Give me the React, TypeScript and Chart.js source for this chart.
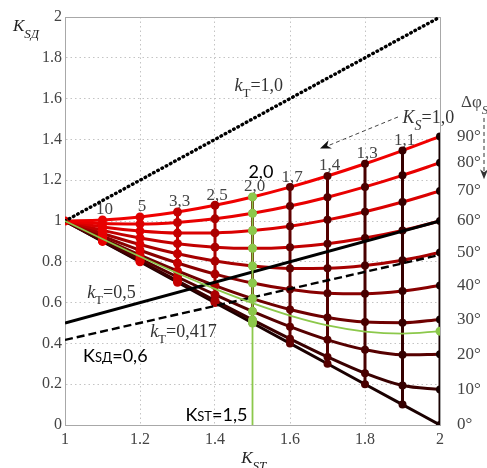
import React, { useEffect, useRef } from 'react';
import { Chart, registerables } from 'chart.js';

Chart.register(...registerables);

// Slip-ratio axis K_ST
const kST = [1, 1.1, 1.2, 1.3, 1.4, 1.5, 1.6, 1.7, 1.8, 1.9, 2];

// K_SД along each constant phase-shift curve (0° … 90°)
const phi0 = [1, 0.9, 0.8, 0.7, 0.6, 0.5, 0.4, 0.3, 0.2, 0.1, 0];
const phi10 = [1, 0.9017, 0.8038, 0.7065, 0.61, 0.515, 0.4222, 0.3336, 0.2536, 0.1933, 0.1743];
const phi20 = [1, 0.9067, 0.8149, 0.7254, 0.6389, 0.557, 0.482, 0.4176, 0.3694, 0.3443, 0.3473];
const phi30 = [1, 0.9148, 0.8328, 0.7553, 0.6835, 0.6197, 0.5664, 0.5269, 0.5044, 0.5012, 0.5177];
const phi40 = [1, 0.9256, 0.8565, 0.794, 0.7397, 0.6957, 0.6639, 0.6462, 0.6437, 0.6567, 0.6841];
const phi50 = [1, 0.9389, 0.8848, 0.8392, 0.8036, 0.7792, 0.7672, 0.7682, 0.782, 0.8081, 0.8452];
const phi60 = [1, 0.9539, 0.9165, 0.8888, 0.8718, 0.866, 0.8718, 0.8888, 0.9165, 0.9539, 1.0];
const phi70 = [1, 0.9704, 0.9504, 0.9406, 0.9415, 0.9529, 0.9745, 1.0056, 1.0454, 1.0929, 1.1472];
const phi80 = [1, 0.9876, 0.9852, 0.9929, 1.0105, 1.0375, 1.0732, 1.1167, 1.1671, 1.2237, 1.2856];
const phi90 = [1, 1.005, 1.0198, 1.044, 1.077, 1.118, 1.1662, 1.2207, 1.2806, 1.3454, 1.4142];
const phaseCurves = [phi0, phi10, phi20, phi30, phi40, phi50, phi60, phi70, phi80, phi90];
const phaseLabels = ['0°', '10°', '20°', '30°', '40°', '50°', '60°', '70°', '80°', '90°'];

// K_S value attached to each vertical (K_ST = 1.1 … 1.9)
const kSLabels = ['', '10', '5', '3,3', '2,5', '2,0', '1,7', '1,4', '1,3', '1,1'];

// Working curve through K_SД = 0,6 at K_ST = 1,5
const greenCurve = [1, 0.912, 0.826, 0.744, 0.667, 0.597, 0.536, 0.488, 0.458, 0.448, 0.46];
const greenX = 1.5;

// Straight lines K_SД = k_T · K_ST
const kTx = [1, 2];
const kT10 = [1, 2];
const kT05 = [0.5, 1.0];
const kT0417 = [0.417, 0.834];

const SERIF = '"Liberation Serif", "Times New Roman", serif';
const SANS = 'Lato, "Open Sans", "Liberation Sans", sans-serif';

const curveColors = ['#1a0000', '#3a0000', '#560000', '#6e0000', '#880000', '#a60000', '#c20000', '#da0000', '#e80000', '#f00000'];
const vertColors = ['', '#e80000', '#dc0000', '#c40000', '#aa0000', '#6a1a00', '#600000', '#540000', '#480000', '#360000', '#180000'];

type Part = [string, string, number];
function drawRuns(ctx: CanvasRenderingContext2D, x: number, y: number, parts: Part[]) {
  let cx = x;
  for (const [text, font, dy] of parts) {
    ctx.font = font;
    ctx.fillText(text, cx, y + dy);
    cx += ctx.measureText(text).width;
  }
}

function arrowHead(ctx: CanvasRenderingContext2D, x0: number, y0: number, x1: number, y1: number, len: number, half: number) {
  const a = Math.atan2(y1 - y0, x1 - x0);
  ctx.beginPath();
  ctx.moveTo(x1, y1);
  ctx.lineTo(x1 - len * Math.cos(a) + half * Math.sin(a), y1 - len * Math.sin(a) - half * Math.cos(a));
  ctx.lineTo(x1 - len * 0.7 * Math.cos(a), y1 - len * 0.7 * Math.sin(a));
  ctx.lineTo(x1 - len * Math.cos(a) - half * Math.sin(a), y1 - len * Math.sin(a) + half * Math.cos(a));
  ctx.closePath();
  ctx.fill();
}

const annotate = {
  id: 'annotate',
  beforeDatasetsDraw(chart: any) {
    const { ctx, chartArea: a, scales } = chart;
    const X = (v: number) => scales.x.getPixelForValue(v);
    const Y = (v: number) => scales.y.getPixelForValue(v);
    ctx.save();
    // top and right frame
    ctx.strokeStyle = '#a8a8a8';
    ctx.lineWidth = 1;
    ctx.beginPath();
    ctx.moveTo(a.left, a.top + 0.5);
    ctx.lineTo(a.right + 0.5, a.top + 0.5);
    ctx.lineTo(a.right + 0.5, a.bottom);
    ctx.stroke();
    // K_S labels above each vertical
    ctx.fillStyle = '#444';
    ctx.font = `17px ${SERIF}`;
    ctx.textAlign = 'center';
    ctx.textBaseline = 'middle';
    for (let i = 1; i < kSLabels.length; i++) {
      ctx.fillText(kSLabels[i], X(kST[i]) + 2, Y(phi90[i]) - 10);
    }
    ctx.restore();
  },
  afterDatasetsDraw(chart: any) {
    const { ctx, chartArea: a, scales } = chart;
    const X = (v: number) => scales.x.getPixelForValue(v);
    const Y = (v: number) => scales.y.getPixelForValue(v);
    ctx.save();
    ctx.textAlign = 'left';
    ctx.textBaseline = 'alphabetic';

    // axis titles
    ctx.fillStyle = '#222';
    drawRuns(ctx, a.left - 52, a.top + 14, [
      ['K', `italic 17px ${SERIF}`, 0],
      ['SД', `italic 13px ${SERIF}`, 7],
    ]);
    drawRuns(ctx, X(1.47), a.bottom + 38, [
      ['K', `italic 17px ${SERIF}`, 0],
      ['ST', `italic 13px ${SERIF}`, 7],
    ]);

    // phase-shift labels on the right
    ctx.fillStyle = '#444';
    ctx.font = `17px ${SERIF}`;
    ctx.textBaseline = 'middle';
    const last = kST.length - 1;
    phaseCurves.forEach((c, j) => {
      ctx.fillText(phaseLabels[j], a.right + 17, Y(c[last]));
    });
    ctx.textBaseline = 'alphabetic';
    drawRuns(ctx, a.right + 21, Y(1.559), [
      ['Δφ', `17px ${SERIF}`, 0],
      ['S', `italic 13px ${SERIF}`, 7],
    ]);
    // dashed downward arrow under Δφ
    ctx.strokeStyle = '#333';
    ctx.fillStyle = '#333';
    ctx.lineWidth = 1;
    ctx.setLineDash([4, 3]);
    ctx.beginPath();
    ctx.moveTo(a.right + 44, Y(1.505));
    ctx.lineTo(a.right + 44, Y(1.24));
    ctx.stroke();
    ctx.setLineDash([]);
    arrowHead(ctx, a.right + 44, Y(1.505), a.right + 44, Y(1.205), 10, 4);

    // K_S = 1,0 with dashed pointer
    ctx.fillStyle = '#333';
    drawRuns(ctx, X(1.9), Y(1.48), [
      ['K', `italic 18px ${SERIF}`, 0],
      ['S', `italic 14px ${SERIF}`, 7],
      ['=1,0', `18px ${SERIF}`, 0],
    ]);
    ctx.strokeStyle = '#444';
    ctx.setLineDash([4, 3]);
    ctx.beginPath();
    ctx.moveTo(X(1.888), Y(1.51));
    ctx.lineTo(X(1.7), Y(1.368));
    ctx.stroke();
    ctx.setLineDash([]);
    ctx.fillStyle = '#111';
    arrowHead(ctx, X(1.888), Y(1.51), X(1.68), Y(1.355), 11, 4.5);

    // k_T labels
    ctx.fillStyle = '#333';
    const kT = (x: number, y: number, val: string) =>
      drawRuns(ctx, X(x), Y(y), [
        ['k', `italic 18px ${SERIF}`, 0],
        ['T', `13px ${SERIF}`, 6],
        [val, `18px ${SERIF}`, 0],
      ]);
    kT(1.452, 1.637, '=1,0');
    kT(1.059, 0.623, '=0,5');
    kT(1.227, 0.431, '=0,417');

    // working point labels
    ctx.fillStyle = '#000';
    drawRuns(ctx, X(1.048), Y(0.31), [
      ['K', `18px ${SANS}`, 0],
      ['SД', `13px ${SANS}`, 0],
      ['=0,6', `18px ${SANS}`, 0],
    ]);
    drawRuns(ctx, X(1.321), Y(0.02), [
      ['K', `18px ${SANS}`, 0],
      ['ST', `13px ${SANS}`, 0],
      ['=1,5', `18px ${SANS}`, 0],
    ]);
    ctx.font = `18px ${SANS}`;
    ctx.fillText('2,0', X(1.489), Y(1.213));
    ctx.restore();
  },
};

function buildDatasets() {
  const sets: any[] = [];
  // constant phase-shift curves
  phaseCurves.forEach((c, j) => {
    sets.push({
      data: kST.map((x, i) => ({ x, y: c[i] })),
      borderColor: curveColors[j],
      borderWidth: 3,
      pointRadius: 0,
      cubicInterpolationMode: 'monotone',
      order: 70 - j,
    });
  });
  // constant K_S verticals with node markers
  for (let i = 1; i < kST.length; i++) {
    const col = vertColors[i];
    sets.push({
      data: phaseCurves.map((c) => ({ x: kST[i], y: c[i] })),
      borderColor: col,
      borderWidth: 3,
      tension: 0,
      pointRadius: i <= 4 ? 4.5 : 4,
      pointBackgroundColor: col,
      pointBorderWidth: 0,
      order: 50,
    });
  }
  // common origin node
  sets.push({
    data: [{ x: kST[0], y: phi90[0] }],
    borderColor: '#e80000',
    pointRadius: 4.5,
    pointBackgroundColor: '#e80000',
    pointBorderWidth: 0,
    order: 45,
  });
  // k_T lines
  sets.push({
    data: kTx.map((x, i) => ({ x, y: kT10[i] })),
    borderColor: '#000',
    borderWidth: 3.4,
    borderDash: [0.6, 4.2],
    borderCapStyle: 'round',
    pointRadius: 0,
    order: 40,
  });
  sets.push({
    data: kTx.map((x, i) => ({ x, y: kT05[i] })),
    borderColor: '#000',
    borderWidth: 3,
    pointRadius: 0,
    order: 40,
  });
  sets.push({
    data: kTx.map((x, i) => ({ x, y: kT0417[i] })),
    borderColor: '#000',
    borderWidth: 2.4,
    borderDash: [8, 4],
    pointRadius: 0,
    order: 40,
  });
  // working curve and working vertical
  sets.push({
    data: kST.map((x, i) => ({ x, y: greenCurve[i] })),
    borderColor: '#8cc84b',
    borderWidth: 1.8,
    pointRadius: (ctx: any) => (ctx.dataIndex === kST.length - 1 ? 4.5 : 0),
    pointBackgroundColor: '#8cc84b',
    pointBorderWidth: 0,
    cubicInterpolationMode: 'monotone',
    order: 30,
  });
  sets.push({
    data: [{ x: greenX, y: 0 }, { x: greenX, y: phi90[5] }],
    borderColor: '#8cc84b',
    borderWidth: 1.8,
    pointRadius: 0,
    order: 20,
  });
  sets.push({
    data: phaseCurves.map((c) => ({ x: greenX, y: c[5] })),
    showLine: false,
    pointRadius: 4.5,
    pointBackgroundColor: '#8cc84b',
    pointBorderWidth: 0,
    order: 10,
  });
  return sets;
}

export default function App() {
  const ref = useRef<HTMLCanvasElement>(null);
  useEffect(() => {
    const canvas = ref.current;
    if (!canvas) return;
    const tickFont = { family: SERIF, size: 16 };
    const fmt = (v: any) => String(Math.round(Number(v) * 10) / 10);
    const chart = new Chart(canvas, {
      type: 'line',
      data: { datasets: buildDatasets() },
      options: {
        animation: false,
        responsive: false,
        devicePixelRatio: 1,
        events: [],
        layout: { padding: { top: 17, right: 47, bottom: 0, left: 0 } },
        plugins: { legend: { display: false }, tooltip: { enabled: false } },
        scales: {
          x: {
            type: 'linear',
            min: 1,
            max: 2,
            ticks: { stepSize: 0.2, padding: 5, font: tickFont, color: '#444', maxRotation: 0, autoSkip: false, callback: fmt },
            grid: { color: '#c4c4c4', lineWidth: 1, drawTicks: false },
            border: { display: true, color: '#a8a8a8', width: 1, dash: [1.5, 3] },
            afterFit: (s: any) => {
              s.height = 43;
              s.paddingLeft = 0;
              s.paddingRight = 0;
            },
          },
          y: {
            type: 'linear',
            min: 0,
            max: 2,
            ticks: { stepSize: 0.2, padding: 3, font: tickFont, color: '#444', callback: fmt },
            grid: { color: '#c4c4c4', lineWidth: 1, drawTicks: false },
            border: { display: true, color: '#a8a8a8', width: 1, dash: [1.5, 3] },
            afterFit: (s: any) => {
              s.width = 65;
              s.paddingTop = 0;
              s.paddingBottom = 0;
            },
          },
        },
      } as any,
      plugins: [annotate as any],
    });
    return () => chart.destroy();
  }, []);
  return (
    <div style={{ position: 'absolute', left: 0, top: 0, width: 487, height: 468, background: '#fff', overflow: 'hidden' }}>
      <canvas ref={ref} width={487} height={468} style={{ display: 'block', width: 487, height: 468 }} />
    </div>
  );
}
